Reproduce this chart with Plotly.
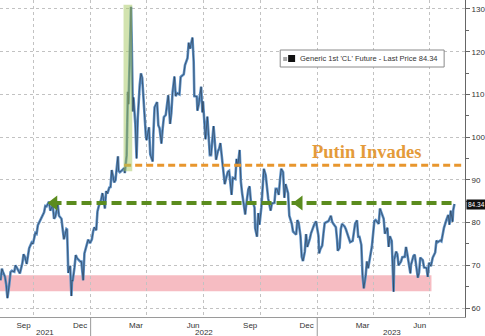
import plotly.graph_objects as go

# Generic 1st 'CL' Future - last price (USD/bbl)
dates = [
    "2021-08-09", "2021-08-11", "2021-08-13", "2021-08-16", "2021-08-18", "2021-08-20", "2021-08-23",
    "2021-08-25", "2021-08-27", "2021-08-31", "2021-09-02", "2021-09-07", "2021-09-09", "2021-09-13",
    "2021-09-15", "2021-09-17", "2021-09-20", "2021-09-22", "2021-09-24", "2021-09-28", "2021-09-30",
    "2021-10-04", "2021-10-06", "2021-10-08", "2021-10-12", "2021-10-14", "2021-10-18", "2021-10-20",
    "2021-10-22", "2021-10-26", "2021-10-28", "2021-11-01", "2021-11-03", "2021-11-05", "2021-11-09",
    "2021-11-11", "2021-11-15", "2021-11-17", "2021-11-19", "2021-11-23", "2021-11-24", "2021-11-26",
    "2021-11-29", "2021-12-01", "2021-12-02", "2021-12-03", "2021-12-06", "2021-12-08", "2021-12-10",
    "2021-12-13", "2021-12-15", "2021-12-17", "2021-12-20", "2021-12-22", "2021-12-24", "2021-12-28",
    "2021-12-31",
    "2022-01-03", "2022-01-05", "2022-01-07", "2022-01-10", "2022-01-12", "2022-01-14", "2022-01-18",
    "2022-01-20", "2022-01-24", "2022-01-26", "2022-01-28", "2022-01-31", "2022-02-02", "2022-02-04",
    "2022-02-08", "2022-02-10", "2022-02-14", "2022-02-15", "2022-02-17", "2022-02-22", "2022-02-24",
    "2022-02-25", "2022-02-28", "2022-03-01", "2022-03-02", "2022-03-03", "2022-03-04", "2022-03-07",
    "2022-03-08", "2022-03-09", "2022-03-10", "2022-03-11", "2022-03-14", "2022-03-16", "2022-03-17",
    "2022-03-18", "2022-03-21", "2022-03-23", "2022-03-25", "2022-03-28", "2022-03-29", "2022-03-31",
    "2022-04-01", "2022-04-05", "2022-04-07", "2022-04-11", "2022-04-12", "2022-04-14", "2022-04-18",
    "2022-04-20", "2022-04-22", "2022-04-25", "2022-04-27", "2022-04-29", "2022-05-02", "2022-05-04",
    "2022-05-06", "2022-05-09", "2022-05-11", "2022-05-13", "2022-05-16", "2022-05-18", "2022-05-20",
    "2022-05-24", "2022-05-26", "2022-05-31", "2022-06-02", "2022-06-06", "2022-06-08", "2022-06-10",
    "2022-06-14", "2022-06-16", "2022-06-17", "2022-06-21", "2022-06-22", "2022-06-24", "2022-06-28",
    "2022-06-30", "2022-07-01", "2022-07-05", "2022-07-07", "2022-07-08", "2022-07-12", "2022-07-14",
    "2022-07-15", "2022-07-18", "2022-07-20", "2022-07-22", "2022-07-25", "2022-07-27", "2022-07-29",
    "2022-08-01", "2022-08-03", "2022-08-05", "2022-08-08", "2022-08-10", "2022-08-12", "2022-08-16",
    "2022-08-18", "2022-08-22", "2022-08-24", "2022-08-26", "2022-08-29", "2022-08-31", "2022-09-02",
    "2022-09-07", "2022-09-08", "2022-09-12", "2022-09-14", "2022-09-16", "2022-09-20", "2022-09-22",
    "2022-09-23", "2022-09-26", "2022-09-28", "2022-09-30", "2022-10-03", "2022-10-05", "2022-10-07",
    "2022-10-10", "2022-10-12", "2022-10-14", "2022-10-18", "2022-10-20", "2022-10-24", "2022-10-26",
    "2022-10-28", "2022-10-31", "2022-11-02", "2022-11-04", "2022-11-07", "2022-11-09", "2022-11-11",
    "2022-11-15", "2022-11-17", "2022-11-21", "2022-11-23", "2022-11-28", "2022-11-30", "2022-12-02",
    "2022-12-05", "2022-12-07", "2022-12-09", "2022-12-12", "2022-12-14", "2022-12-16", "2022-12-20",
    "2022-12-22", "2022-12-27", "2022-12-30",
    "2023-01-03", "2023-01-04", "2023-01-06", "2023-01-09", "2023-01-11", "2023-01-13", "2023-01-17",
    "2023-01-19", "2023-01-23", "2023-01-25", "2023-01-27", "2023-01-31", "2023-02-02", "2023-02-03",
    "2023-02-06", "2023-02-08", "2023-02-10", "2023-02-14", "2023-02-16", "2023-02-21", "2023-02-23",
    "2023-02-27", "2023-03-01", "2023-03-03", "2023-03-06", "2023-03-08", "2023-03-10", "2023-03-13",
    "2023-03-15", "2023-03-17", "2023-03-20", "2023-03-22", "2023-03-24", "2023-03-28", "2023-03-30",
    "2023-04-03", "2023-04-05", "2023-04-10", "2023-04-12", "2023-04-14", "2023-04-18", "2023-04-20",
    "2023-04-24", "2023-04-26", "2023-04-28", "2023-05-01", "2023-05-02", "2023-05-04", "2023-05-05",
    "2023-05-08", "2023-05-10", "2023-05-12", "2023-05-16", "2023-05-18", "2023-05-22", "2023-05-24",
    "2023-05-26", "2023-05-31", "2023-06-01", "2023-06-05", "2023-06-07", "2023-06-09", "2023-06-12",
    "2023-06-14", "2023-06-16", "2023-06-20", "2023-06-22", "2023-06-26", "2023-06-28", "2023-06-30",
    "2023-07-03", "2023-07-06", "2023-07-10", "2023-07-12", "2023-07-14", "2023-07-18", "2023-07-20",
    "2023-07-24", "2023-07-26", "2023-07-28", "2023-07-31", "2023-08-02", "2023-08-04", "2023-08-07",
    "2023-08-08", "2023-08-10",
]
last_price = [
    66.5, 69.2, 68.4, 67.3, 65.5, 62.3, 65.6,
    68.4, 68.7, 68.5, 70.0, 68.4, 68.1, 70.5,
    72.6, 72.0, 70.3, 72.2, 74.0, 75.3, 75.0,
    77.6, 77.4, 79.4, 80.6, 81.3, 82.4, 83.9,
    83.8, 84.9, 82.8, 84.1, 80.9, 81.3, 84.2,
    81.6, 80.9, 78.4, 76.1, 78.5, 78.4, 68.2,
    69.9, 62.8, 66.5, 66.3, 69.5, 72.4, 71.7,
    71.3, 70.9, 70.9, 66.5, 72.8, 73.8, 76.0,
    75.2,
    76.1, 77.9, 78.9, 78.2, 82.6, 83.8, 85.4,
    86.9, 83.3, 87.4, 86.8, 88.2, 88.3, 92.3,
    89.4, 89.9, 95.5, 92.1, 91.8, 92.4, 92.8,
    91.6, 95.7, 103.4, 110.6, 107.7, 115.7, 130.5,
    123.7, 108.7, 106.0, 109.3, 103.0, 95.0, 103.0,
    104.7, 112.1, 114.9, 113.9, 106.0, 104.2, 100.3,
    99.3, 102.3, 96.0, 94.3, 100.6, 107.0, 108.2,
    102.8, 102.1, 98.5, 102.0, 104.7, 105.2, 107.8,
    109.8, 103.1, 105.7, 110.5, 114.2, 109.6, 110.3,
    110.0, 114.1, 114.7, 116.9, 118.5, 122.1, 120.7,
    123.3, 117.6, 109.6, 109.5, 106.2, 107.6, 111.8,
    105.8, 108.4, 99.5, 102.7, 104.8, 95.8, 95.8,
    97.6, 102.6, 98.9, 94.7, 96.7, 97.3, 98.6,
    93.9, 90.7, 89.0, 90.8, 91.9, 92.1, 86.5,
    90.5, 90.2, 94.9, 93.1, 97.0, 89.6, 86.9,
    81.9, 83.5, 87.8, 88.5, 85.1, 84.5, 83.5,
    78.7, 76.7, 82.2, 79.5, 83.6, 87.8, 92.6,
    91.1, 87.3, 85.6, 82.8, 84.5, 84.6, 87.9,
    87.9, 86.5, 90.0, 92.6, 91.8, 85.8, 89.0,
    86.9, 81.6, 79.7, 77.9, 77.2, 80.6, 80.0,
    76.9, 72.0, 71.0, 73.2, 77.3, 74.3, 76.2,
    77.5, 79.5, 80.3,
    76.9, 72.8, 73.8, 74.6, 77.4, 79.9, 80.2,
    80.3, 81.6, 80.2, 79.7, 78.9, 75.9, 73.4,
    74.1, 78.5, 79.7, 79.1, 78.5, 76.2, 75.4,
    75.7, 77.7, 79.7, 80.5, 76.7, 76.7, 74.8,
    67.6, 64.6, 67.6, 70.9, 69.3, 73.2, 74.4,
    80.4, 80.6, 79.7, 83.3, 82.5, 80.9, 77.4,
    78.8, 74.3, 76.8, 75.7, 71.7, 63.8, 71.3,
    73.2, 72.6, 70.0, 70.9, 71.9, 72.0, 74.3,
    72.7, 68.1, 70.1, 72.2, 72.5, 70.2, 67.1,
    68.3, 71.8, 71.2, 69.5, 69.4, 67.3, 70.6,
    69.8, 71.8, 73.0, 75.8, 75.4, 75.8, 75.6,
    78.7, 79.8, 80.6, 81.8, 79.5, 82.8, 80.2,
    82.9, 84.34,
]

month_ticks = ["2021-09-15", "2021-12-15", "2022-03-15", "2022-06-15",
               "2022-09-15", "2022-12-15", "2023-03-15", "2023-06-15"]
month_labels = ["Sep", "Dec", "Mar", "Jun", "Sep", "Dec", "Mar", "Jun"]
year_centers = ["2021-10-19", "2022-07-02", "2023-05-01"]
year_labels = ["2021", "2022", "2023"]
year_breaks = ["2022-01-01", "2023-01-01"]
price_ticks = [60, 70, 80, 90, 100, 110, 120, 130]

x_start, x_end = "2021-08-08", "2023-08-27"
y_min, y_max = 57.9, 132.1

invasion_level = 93.4
prior_high_level = 84.6
floor_band = (63.9, 67.7)
spike_window = ("2022-02-23", "2022-03-09")
last_value = last_price[-1]

GREEN = "#5B8C1E"
ORANGE = "#E8962E"
AXIS_FONT = dict(family="Liberation Sans, Arial, sans-serif", size=8, color="#333333")

fig = go.Figure()

# Price line: blue body with a thin dark core
fig.add_trace(go.Scatter(x=dates, y=last_price, mode="lines",
                         line=dict(color="#5E92C8", width=2.6), hoverinfo="skip"))
fig.add_trace(go.Scatter(x=dates, y=last_price, mode="lines", opacity=0.8,
                         line=dict(color="#1A1D24", width=0.6), hoverinfo="skip"))

# Orange "Putin Invades" level
fig.add_trace(go.Scatter(x=["2022-02-24", x_end], y=[invasion_level, invasion_level], mode="lines",
                         line=dict(color=ORANGE, width=3, dash="7px,4px"), hoverinfo="skip"))

# Green prior-high level with arrowheads
fig.add_trace(go.Scatter(x=["2021-10-30", "2023-08-10"], y=[prior_high_level, prior_high_level],
                         mode="lines", line=dict(color=GREEN, width=4, dash="10px,5px"),
                         hoverinfo="skip"))
fig.add_trace(go.Scatter(x=["2021-11-03", "2022-12-03"], y=[prior_high_level, prior_high_level],
                         mode="markers",
                         marker=dict(symbol="triangle-left", size=13, color=GREEN),
                         hoverinfo="skip"))

shapes = [
    # pink floor band
    dict(type="rect", xref="x", yref="y", x0=x_start, x1="2023-07-04",
         y0=floor_band[0], y1=floor_band[1], fillcolor="#F6BCC2", line=dict(width=0),
         layer="below"),
    # green highlight over the March 2022 spike
    dict(type="rect", xref="x", yref="y", x0=spike_window[0], x1=spike_window[1],
         y0=92.0, y1=131.0, fillcolor="rgba(165,200,95,0.5)", line=dict(width=0),
         layer="above"),
    # legend box
    dict(type="rect", xref="paper", yref="paper", x0=282 / 468, x1=447 / 468,
         y0=1 - 67 / 317, y1=1 - 50 / 317, fillcolor="white",
         line=dict(color="#8A8A8A", width=1), layer="above"),
    dict(type="rect", xref="paper", yref="paper", x0=285 / 468, x1=289 / 468,
         y0=1 - 61 / 317, y1=1 - 57 / 317, fillcolor="#A8A8A8", line=dict(width=0),
         layer="above"),
    dict(type="rect", xref="paper", yref="paper", x0=290 / 468, x1=297 / 468,
         y0=1 - 62 / 317, y1=1 - 55 / 317, fillcolor="#111111", line=dict(width=0),
         layer="above"),
]
for yb in year_breaks:
    shapes.append(dict(type="line", xref="x", yref="paper", x0=yb, x1=yb, y0=0, y1=-19 / 317,
                       line=dict(color="#9A9A9A", width=1)))

annotations = [
    dict(x=300 / 468, y=1 - 58.5 / 317, xref="paper", yref="paper", xanchor="left",
         yanchor="middle", showarrow=False,
         text="Generic 1st 'CL' Future - Last Price %.2f" % last_value,
         font=dict(family="Liberation Sans, Arial, sans-serif", size=7.5, color="#333333")),
    dict(x="2023-03-22", y=invasion_level, xref="x", yref="y", yanchor="bottom", yshift=1,
         showarrow=False, text="<b>Putin Invades</b>",
         font=dict(family="Liberation Serif, Times New Roman, serif", size=18.5, color="#E49B3A")),
    dict(x=1.0, y=last_value, xref="paper", yref="y", xanchor="left", yanchor="middle",
         xshift=1, showarrow=False, text="%.2f" % last_value, bgcolor="#111111",
         font=dict(family="Liberation Sans, Arial, sans-serif", size=6.5, color="white"),
         borderpad=1),
]
for xc, lab in zip(year_centers, year_labels):
    annotations.append(dict(x=xc, y=-15 / 317, xref="x", yref="paper", yanchor="middle",
                            showarrow=False, text=lab, font=AXIS_FONT))

fig.update_layout(
    width=485, height=336,
    margin=dict(l=0, r=17, t=0, b=19),
    plot_bgcolor="white", paper_bgcolor="white",
    showlegend=False,
    shapes=shapes,
    annotations=annotations,
    xaxis=dict(
        type="date", range=[x_start, x_end],
        tickvals=month_ticks, ticktext=month_labels, tickfont=AXIS_FONT,
        ticks="", showgrid=False, showline=True, linecolor="#9A9A9A", linewidth=1,
        zeroline=False,
        minor=dict(tick0="2021-10-01", dtick="M3", showgrid=True, gridcolor="#C2C2C2",
                   griddash="dot", gridwidth=1, ticks=""),
    ),
    yaxis=dict(
        side="right", range=[y_min, y_max],
        tickvals=price_ticks, tickfont=AXIS_FONT,
        ticks="outside", ticklen=4, tickcolor="#666666",
        showline=True, linecolor="#666666", linewidth=1,
        showgrid=True, gridcolor="#C2C2C2", griddash="dot", gridwidth=1,
        zeroline=False,
        minor=dict(dtick=5, ticks="outside", ticklen=3, tickcolor="#666666", showgrid=False),
    ),
)

fig.write_html("out.html")
